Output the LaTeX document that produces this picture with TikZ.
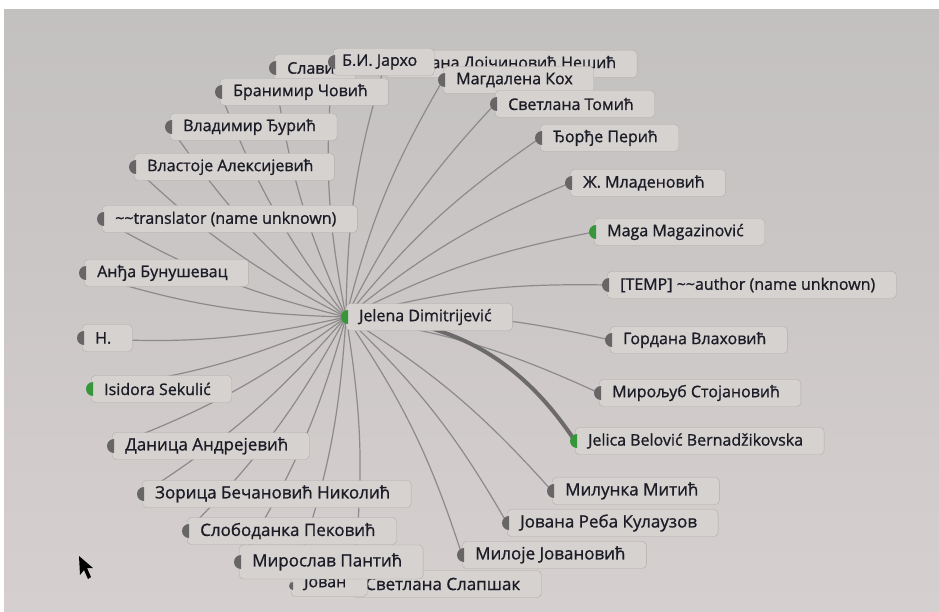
\documentclass[tikz,border=0pt]{standalone}
\usepackage{fontspec}
\setmainfont{Open Sans}[FakeBold=1]
\definecolor{screentop}{HTML}{C3C0C0}
\definecolor{screenbot}{HTML}{D6CFCF}
\definecolor{boxfill}{HTML}{D5D2D0}
\definecolor{boxline}{HTML}{B0ADAB}
\definecolor{edge}{HTML}{8C8A8B}
\definecolor{edgedark}{HTML}{6C6A6A}
\definecolor{mkgray}{HTML}{676565}
\definecolor{mkgreen}{HTML}{37963A}
\definecolor{ink}{HTML}{1C1C26}
\pgfdeclarelayer{back}
\pgfdeclarelayer{edges}
\pgfsetlayers{back,edges,main}

\begin{document}
\begin{tikzpicture}
    [x=1pt, y=-1pt,
     who/.style={draw=boxline, fill=boxfill, rounded corners=4pt, anchor=west,
        minimum height=27pt, inner xsep=13pt, text=ink,
        font=\fontsize{16}{18}\selectfont, execute at end node={\hspace*{8pt}}},
     near/.style={font=\fontsize{17}{20}\selectfont},
     link/.style={draw=edge, line width=1.2pt},
     heavy/.style={draw=edgedark, line width=4pt}]
\useasboundingbox (0,0) rectangle (939,612);
\begin{pgfonlayer}{back}
\fill[white] (0,0) rectangle (939,612);
\shade[top color=screentop, bottom color=screenbot] (4,10) rectangle (939,612);
\end{pgfonlayer}

% people round the centre, top to bottom
\node[who] (sla) at (274,68) {Слави};
\node[who] (bil) at (385,64) {Биљана Дојчиновић Нешић};
\node[who,inner xsep=9pt] (jar) at (333,62) {Б.И. Јархо};
\node[who] (mag) at (443,80) {Магдалена Кох};
\node[who] (bran) at (220,92) {Бранимир Човић};
\node[who] (tom) at (495,104) {Светлана Томић};
\node[who] (vla) at (170,127) {Владимир Ђурић};
\node[who] (per) at (540,138) {Ђорђе Перић};
\node[who] (vlas) at (134,167) {Властоје Алексијевић};
\node[who] (mla) at (570,183) {Ж. Младеновић};
\node[who] (tra) at (102,219) {\textasciitilde\textasciitilde translator (name unknown)};
\node[who] (maga) at (594,232) {Maga Magazinović};
\node[who] (anj) at (84,273) {Анђа Бунушевац};
\node[who] (temp) at (607,285) {[TEMP] \textasciitilde\textasciitilde author (name unknown)};
\node[who] (jel) at (346,317) {Jelena Dimitrijević};
\node[who] (gor) at (610,340) {Гордана Влаховић};
\node[who] (n) at (82,338) {Н.};
\node[who] (mir) at (599,393) {Мирољуб Стојановић};
\node[who] (isi) at (91,389) {Isidora Sekulić};
\node[who] (jeli) at (575,441) {Jelica Belović Bernadžikovska};
\node[who,near] (dan) at (112,446) {Даница Андрејевић};
\node[who,near] (mil) at (552,491) {Милунка Митић};
\node[who,near] (zor) at (142,494) {Зорица Бечановић Николић};
\node[who,near] (jov) at (507,523) {Јована Реба Кулаузов};
\node[who,near] (slo) at (187,531) {Слободанка Пековић};
\node[who,near] (milo) at (462,555) {Милоје Јовановић};
\node[who,near] (slap) at (352,584) {Светлана Слапшак};
\node[who] (jovan) at (291,583) {Јован};
\node[who,near,minimum height=34pt] (miro) at (239,562) {Мирослав Пантић};

% markers
\foreach \n in {sla, jar, mag, bran, tom, vla, per, vlas, mla, tra, anj, temp,
    gor, n, mir, dan, mil, zor, jov, slo, milo, miro}
    \fill[mkgray] ([xshift=2pt]\n.west) ++(0pt,7pt) arc[start angle=90, end angle=270, radius=7pt] -- cycle;
\foreach \n in {maga, jel, isi, jeli}
    \fill[mkgreen] ([xshift=2pt]\n.west) ++(0pt,7pt) arc[start angle=90, end angle=270, radius=7pt] -- cycle;
\fill[mkgray] ([xshift=2pt,yshift=-3pt]jovan.west) ++(0pt,4pt) arc[start angle=90, end angle=270, radius=4pt] -- cycle;

% links from the centre
\begin{pgfonlayer}{edges}
\foreach \t in {sla, bil, jar, mag, bran, tom, vla, per, vlas, mla, tra, maga, anj, temp,
    gor, n, mir, isi, dan, mil, zor, jov, slo, milo, miro, jovan, slap}
    \draw[link] (jel.west) to[bend left=8] (\t.west);
\draw[heavy] (jel.west) to[bend left=28] (jeli.west);
\end{pgfonlayer}

% mouse pointer
\fill[black] (79,556) -- (80,575) -- (84,570) -- (88,579) -- (91,577) -- (87,568) -- (93,568) -- cycle;
\end{tikzpicture}
\end{document}
